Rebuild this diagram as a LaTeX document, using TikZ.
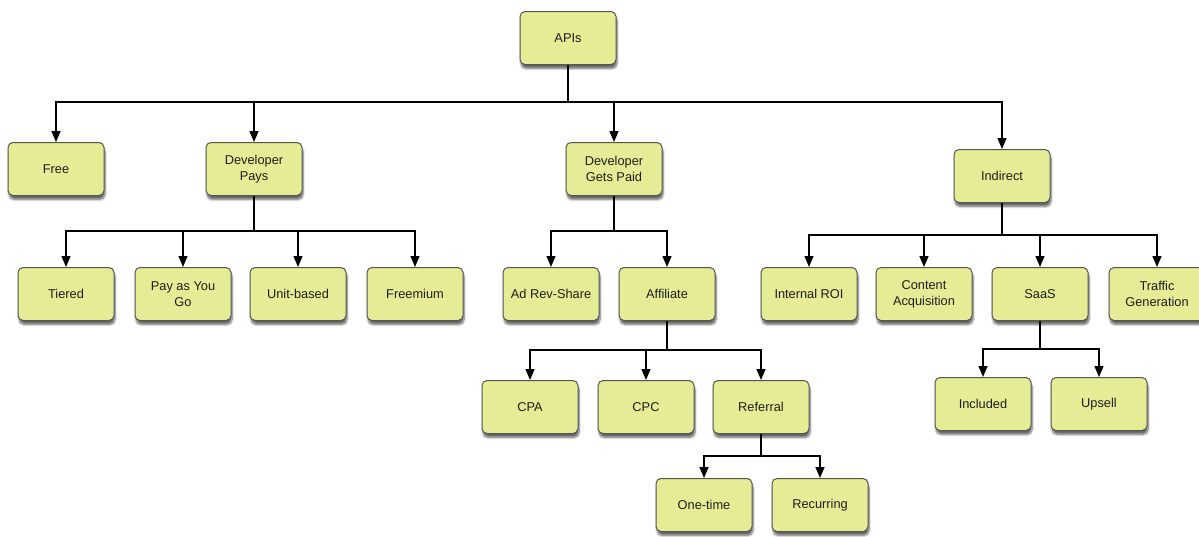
\documentclass[tikz,border=0pt]{standalone}
\usepackage{fontspec}
\setmainfont{Liberation Sans}
\usetikzlibrary{arrows.meta,shadows.blur}
\definecolor{boxfill}{RGB}{230,235,150}
\definecolor{boxedge}{RGB}{85,85,80}
\definecolor{txt}{RGB}{30,30,30}
\tikzset{
  box/.style={draw=boxedge, line width=1pt, fill=boxfill, rounded corners=5pt,
    minimum width=96pt, minimum height=53pt, align=center, text=txt,
    font=\fontsize{12.8}{16}\selectfont,
    blur shadow={shadow xshift=1pt, shadow yshift=-4pt, shadow blur steps=6, shadow opacity=60}},
  link/.style={line width=1.4pt, black, -{Triangle[width=9pt,length=11pt]}},
  trunk/.style={line width=1.4pt, black}
}
\begin{document}
\begin{tikzpicture}[x=1pt,y=-1pt]
\useasboundingbox (0,0) rectangle (1199,536);

% level 0
\node[box] (apis) at (568,38) {APIs};

% level 1
\node[box] (free) at (56,169) {Free};
\node[box] (dpays) at (254,169) {Developer\\Pays};
\node[box] (dpaid) at (614,169) {Developer\\Gets Paid};
\node[box] (indirect) at (1002,176) {Indirect};

% level 2
\node[box] (tiered) at (66,294) {Tiered};
\node[box] (payg) at (183,294) {Pay as You\\Go};
\node[box] (unit) at (298,294) {Unit-based};
\node[box] (freemium) at (415,294) {Freemium};
\node[box] (adrev) at (551,294) {Ad Rev-Share};
\node[box] (affiliate) at (667,294) {Affiliate};
\node[box] (roi) at (809,294) {Internal ROI};
\node[box] (content) at (924,294) {Content\\Acquisition};
\node[box] (saas) at (1040,294) {SaaS};
\node[box] (traffic) at (1157,294) {Traffic\\Generation};

% level 3
\node[box] (cpa) at (530,407) {CPA};
\node[box] (cpc) at (646,407) {CPC};
\node[box] (referral) at (761,407) {Referral};
\node[box] (included) at (983,404) {Included};
\node[box] (upsell) at (1099,404) {Upsell};

% level 4
\node[box] (onetime) at (704,505) {One-time};
\node[box] (recurring) at (820,505) {Recurring};

% bus heights
\coordinate (busA) at (0,102);
\coordinate (busB) at (0,231);
\coordinate (busC) at (0,235);
\coordinate (busD) at (0,350);
\coordinate (busE) at (0,456);
\coordinate (busF) at (0,349);

% connectors
\foreach \c in {free,dpays,dpaid,indirect}
  \draw[link] (apis.south) -- (apis.south |- busA) -| (\c.north);
\foreach \c in {tiered,payg,unit,freemium}
  \draw[link] (dpays.south) -- (dpays.south |- busB) -| (\c.north);
\foreach \c in {adrev,affiliate}
  \draw[link] (dpaid.south) -- (dpaid.south |- busB) -| (\c.north);
\foreach \c in {roi,content,saas,traffic}
  \draw[link] (indirect.south) -- (indirect.south |- busC) -| (\c.north);
\foreach \c in {cpa,cpc,referral}
  \draw[link] (affiliate.south) -- (affiliate.south |- busD) -| (\c.north);
\foreach \c in {onetime,recurring}
  \draw[link] (referral.south) -- (referral.south |- busE) -| (\c.north);
\foreach \c in {included,upsell}
  \draw[link] (saas.south) -- (saas.south |- busF) -| (\c.north);
\end{tikzpicture}
\end{document}
